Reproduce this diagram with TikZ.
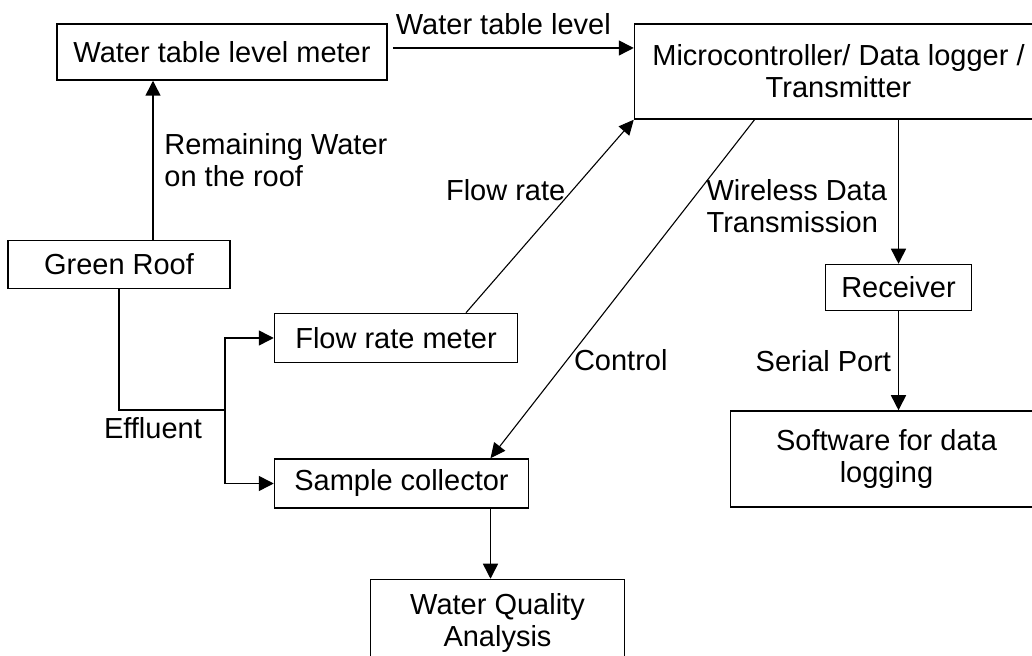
\documentclass[tikz,border=0pt]{standalone}
\usepackage{fontspec}
\setmainfont{Liberation Sans}
\usetikzlibrary{arrows.meta,positioning}

\begin{document}
\begin{tikzpicture}[
    every node/.style={font=\fontsize{14.5}{16}\selectfont},
    box/.style={draw, line width=0.75pt, align=center, inner sep=0pt},
    flow/.style={-{Triangle[length=7.5pt,width=7.5pt]}, line width=0.75pt},
    slant/.style={-{Triangle[length=7.5pt,width=7pt]}, line width=0.55pt}
]
\useasboundingbox (0,0) rectangle (516pt,-328pt);

% measuring side
\node[box, minimum width=165pt, minimum height=28pt] (lvl) at (111pt,-26pt) {Water table level meter};
\node[box, minimum width=111pt, minimum height=24pt, below=79.5pt of lvl.south west, anchor=north west, xshift=-24.5pt] (roof) {Green Roof};
\node[box, minimum width=121.5pt, minimum height=24.5pt, below right=36.75pt and 21.5pt of roof.east, anchor=west] (flow) {Flow rate meter};
\node[box, minimum width=127pt, minimum height=24.5pt, below=47.5pt of flow.south west, anchor=north west] (sample) {Sample collector};
\node[box, minimum width=127pt, minimum height=43.5pt, below=35pt of sample.south west, anchor=north west, xshift=48pt] (wqa) {Water Quality\\Analysis};

% logging side
\node[box, minimum width=204pt, minimum height=47.5pt, right=123pt of lvl.north east, anchor=north west] (micro) {Microcontroller/ Data logger /\\Transmitter};
\node[box, minimum width=73pt, minimum height=23pt, below=72pt of micro.south west, anchor=north west, xshift=95.5pt] (recv) {Receiver};
\node[box, minimum width=156pt, minimum height=48pt, below=49.5pt of recv, xshift=-6pt] (soft) {Software for data\\logging};

\coordinate (split) at ([shift={(53pt,-60.5pt)}]roof.south);

\draw[flow, shorten <=2.5pt] ([yshift=2pt]lvl.east) -- ([yshift=2pt]lvl.east -| micro.west) node[above, pos=0.47, yshift=3pt] {Water table level};
\draw[flow] ([xshift=17pt]roof.north) -- ([xshift=17pt]roof.north |- lvl.south) node[right, midway, align=left, xshift=2pt] {Remaining Water\\on the roof};
\draw[line width=0.75pt] (roof) |- (split) node[below, pos=0.66] {Effluent};
\draw[flow] (split) |- (flow);
\draw[flow] (split) |- (sample);
\draw[slant] ([xshift=35pt]flow.north) -- (micro.south west) node[left, pos=0.635] {Flow rate};
\draw[slant] ([xshift=-42pt]micro.south) -- ([xshift=44.5pt]sample.north) node[right, pos=0.711] {Control};
\draw[flow] ([xshift=44.5pt]sample.south) -- ([xshift=44.5pt]sample.south |- wqa.north);
\draw[flow] (micro.south -| recv) -- (recv) node[left, pos=0.6, align=left, xshift=-2pt] {Wireless Data\\Transmission};
\draw[flow] (recv) -- (recv |- soft.north) node[left, midway] {Serial Port};
\end{tikzpicture}
\end{document}
